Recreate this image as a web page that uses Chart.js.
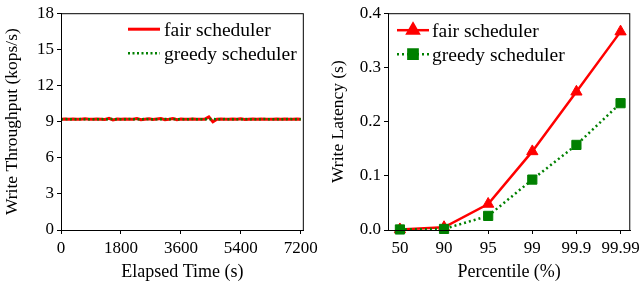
<!DOCTYPE html>
<html>
<head>
<meta charset="utf-8">
<script src="https://cdn.jsdelivr.net/npm/chart.js@4"></script>
<style>
  html, body { margin: 0; padding: 0; background: #fff; }
  #wrap { position: relative; width: 644px; height: 289px; }
  canvas { position: absolute; top: 0; }
</style>
</head>
<body>
<div id="wrap">
  <canvas id="tputChart" width="322" height="289" style="left:0"></canvas>
  <canvas id="latChart" width="322" height="289" style="left:322px"></canvas>
</div>
<script>
// Débit d'écriture dans le temps
const elapsedTimes = [0, 120, 240, 360, 480, 600, 720, 840, 960, 1080,
    1200, 1320, 1440, 1560, 1680, 1800, 1920, 2040, 2160, 2280,
    2400, 2520, 2640, 2760, 2880, 3000, 3120, 3240, 3360, 3480,
    3600, 3720, 3840, 3960, 4080, 4200, 4320, 4440, 4560, 4680,
    4800, 4920, 5040, 5160, 5280, 5400, 5520, 5640, 5760, 5880,
    6000, 6120, 6240, 6360, 6480, 6600, 6720, 6840, 6960, 7080, 7200];
const fairThroughput = [9.2, 9.22, 9.19, 9.21, 9.2, 9.2, 9.23, 9.19, 9.2, 9.21,
    9.2, 9.18, 9.27, 9.14, 9.22, 9.2, 9.21, 9.19, 9.2, 9.26,
    9.15, 9.2, 9.24, 9.17, 9.21, 9.25, 9.16, 9.2, 9.26, 9.15,
    9.21, 9.2, 9.19, 9.22, 9.2, 9.2, 9.2, 9.38, 8.98, 9.2,
    9.22, 9.2, 9.19, 9.21, 9.2, 9.23, 9.18, 9.2, 9.21, 9.19,
    9.22, 9.2, 9.2, 9.19, 9.21, 9.2, 9.22, 9.19, 9.2, 9.21, 9.2];
const greedyThroughput = [9.2, 9.21, 9.2, 9.19, 9.2, 9.21, 9.2, 9.2, 9.19, 9.2,
    9.21, 9.2, 9.2, 9.22, 9.19, 9.2, 9.2, 9.21, 9.2, 9.19,
    9.2, 9.21, 9.2, 9.2, 9.19, 9.2, 9.22, 9.2, 9.2, 9.21,
    9.19, 9.2, 9.2, 9.21, 9.2, 9.2, 9.19, 9.2, 9.22, 9.2,
    9.2, 9.21, 9.2, 9.19, 9.2, 9.2, 9.21, 9.2, 9.2, 9.19,
    9.2, 9.21, 9.2, 9.2, 9.2, 9.19, 9.2, 9.21, 9.2, 9.2, 9.2];
const timeTicks = [0, 1800, 3600, 5400, 7200];
const tputTicks = [0, 3, 6, 9, 12, 15, 18];

// Latence d'écriture par percentile
const percentiles = ['50', '90', '95', '99', '99.9', '99.99'];
const fairLatency = [0.001, 0.005, 0.048, 0.145, 0.255, 0.366];
const greedyLatency = [0.001, 0.002, 0.026, 0.093, 0.157, 0.234];
const latTicks = [0, 0.1, 0.2, 0.3, 0.4];

const RED = '#ff0000';
const GREEN = '#008000';
const FONT = 'Liberation Serif';

Chart.defaults.font.family = FONT;
Chart.defaults.font.size = 17;
Chart.defaults.color = '#000';

// Cadre noir autour de la zone du graphique
const framePlugin = {
    id: 'frame',
    afterDraw(chart) {
        const a = chart.chartArea;
        const ctx = chart.ctx;
        ctx.save();
        ctx.strokeStyle = '#000';
        ctx.lineWidth = 1;
        ctx.strokeRect(a.left + 0.5, a.top + 0.5, a.right - a.left - 1, a.bottom - a.top);
        ctx.restore();
    }
};

// Légende dessinée dans la zone du graphique
function insideLegend(opts) {
    return {
        id: 'insideLegend',
        afterDraw(chart) {
            const a = chart.chartArea;
            const ctx = chart.ctx;
            ctx.save();
            chart.data.datasets.forEach((ds, i) => {
                const y = a.top + opts.top + i * opts.rowGap;
                const x0 = a.left + opts.lineStart;
                const x1 = a.left + opts.lineEnd;
                ctx.strokeStyle = ds.borderColor;
                ctx.lineWidth = ds.borderWidth;
                ctx.setLineDash(ds.borderDash || []);
                ctx.beginPath();
                ctx.moveTo(x0, y);
                ctx.lineTo(x1, y);
                ctx.stroke();
                ctx.setLineDash([]);
                if (ds.pointRadius > 0) {
                    Chart.helpers.drawPoint(ctx, {
                        pointStyle: ds.pointStyle,
                        radius: ds.pointRadius,
                        borderWidth: 1
                    }, (x0 + x1) / 2, y);
                    ctx.fillStyle = ds.backgroundColor;
                    ctx.fill();
                }
                ctx.fillStyle = '#000';
                ctx.font = '19.5px ' + FONT;
                ctx.textBaseline = 'middle';
                ctx.fillText(ds.label, a.left + opts.textStart, y + 1.5);
            });
            ctx.restore();
        }
    };
}

function axisStyle(extra) {
    return Object.assign({
        grid: { drawOnChartArea: false, drawTicks: true, tickLength: 4, color: '#000' },
        border: { display: true, color: '#000' }
    }, extra);
}

// Graphique du débit
new Chart(document.getElementById('tputChart'), {
    type: 'line',
    data: {
        datasets: [{
            label: 'fair scheduler',
            data: elapsedTimes.map((t, i) => ({ x: t, y: fairThroughput[i] })),
            borderColor: RED,
            backgroundColor: RED,
            borderWidth: 3,
            pointRadius: 0,
            order: 2
        }, {
            label: 'greedy scheduler',
            data: elapsedTimes.map((t, i) => ({ x: t, y: greedyThroughput[i] })),
            borderColor: GREEN,
            backgroundColor: GREEN,
            borderWidth: 2.5,
            borderDash: [2, 2.5],
            pointRadius: 0,
            order: 1
        }]
    },
    options: {
        responsive: false,
        animation: false,
        layout: { padding: { top: 10, right: 15, left: 0, bottom: 0 } },
        plugins: { legend: { display: false }, tooltip: { enabled: false } },
        scales: {
            x: axisStyle({
                type: 'linear',
                min: 0,
                max: 7290,
                afterBuildTicks: s => { s.ticks = timeTicks.map(v => ({ value: v })); },
                afterFit: s => { s.height = 59; },
                ticks: { padding: 4, maxRotation: 0, callback: v => String(v) },
                title: { display: true, text: 'Elapsed Time (s)', font: { size: 18 }, padding: { top: 0, bottom: 6 } }
            }),
            y: axisStyle({
                min: 0,
                max: 18,
                afterBuildTicks: s => { s.ticks = tputTicks.map(v => ({ value: v })); },
                afterFit: s => { s.width = 61; },
                ticks: { padding: 3, callback: v => String(v) },
                title: { display: true, text: 'Write Throughput (kops/s)', font: { size: 17.5 }, padding: { top: 2, bottom: 0 } }
            })
        }
    },
    plugins: [framePlugin, insideLegend({ top: 16, rowGap: 24, lineStart: 67, lineEnd: 99, textStart: 103 })]
});

// Graphique de la latence
new Chart(document.getElementById('latChart'), {
    type: 'line',
    data: {
        datasets: [{
            label: 'fair scheduler',
            data: fairLatency.map((v, i) => ({ x: i, y: v })),
            borderColor: RED,
            backgroundColor: RED,
            borderWidth: 2.5,
            pointStyle: 'triangle',
            pointRadius: 6.5,
            pointBorderWidth: 1,
            order: 2
        }, {
            label: 'greedy scheduler',
            data: greedyLatency.map((v, i) => ({ x: i, y: v })),
            borderColor: GREEN,
            backgroundColor: GREEN,
            borderWidth: 2.5,
            borderDash: [2, 3],
            pointStyle: 'rect',
            pointRadius: 6.5,
            pointBorderWidth: 1,
            order: 1
        }]
    },
    options: {
        responsive: false,
        animation: false,
        clip: false,
        layout: { padding: { top: 10, right: 8, left: 0, bottom: 0 } },
        plugins: { legend: { display: false }, tooltip: { enabled: false } },
        scales: {
            x: axisStyle({
                type: 'linear',
                min: -0.27,
                max: 5.22,
                afterBuildTicks: s => { s.ticks = percentiles.map((p, i) => ({ value: i })); },
                afterFit: s => { s.height = 59; },
                ticks: { padding: 4, maxRotation: 0, callback: v => percentiles[v] },
                title: { display: true, text: 'Percentile (%)', font: { size: 18 }, padding: { top: 0, bottom: 6 } }
            }),
            y: axisStyle({
                min: 0,
                max: 0.4,
                afterBuildTicks: s => { s.ticks = latTicks.map(v => ({ value: v })); },
                afterFit: s => { s.width = 66; },
                ticks: { padding: 3, callback: v => v.toFixed(1) },
                title: { display: true, text: 'Write Latency (s)', font: { size: 17.5 }, padding: { top: 6, bottom: 0 } }
            })
        }
    },
    plugins: [framePlugin, insideLegend({ top: 17, rowGap: 24, lineStart: 9, lineEnd: 41, textStart: 44 })]
});
</script>
</body>
</html>
